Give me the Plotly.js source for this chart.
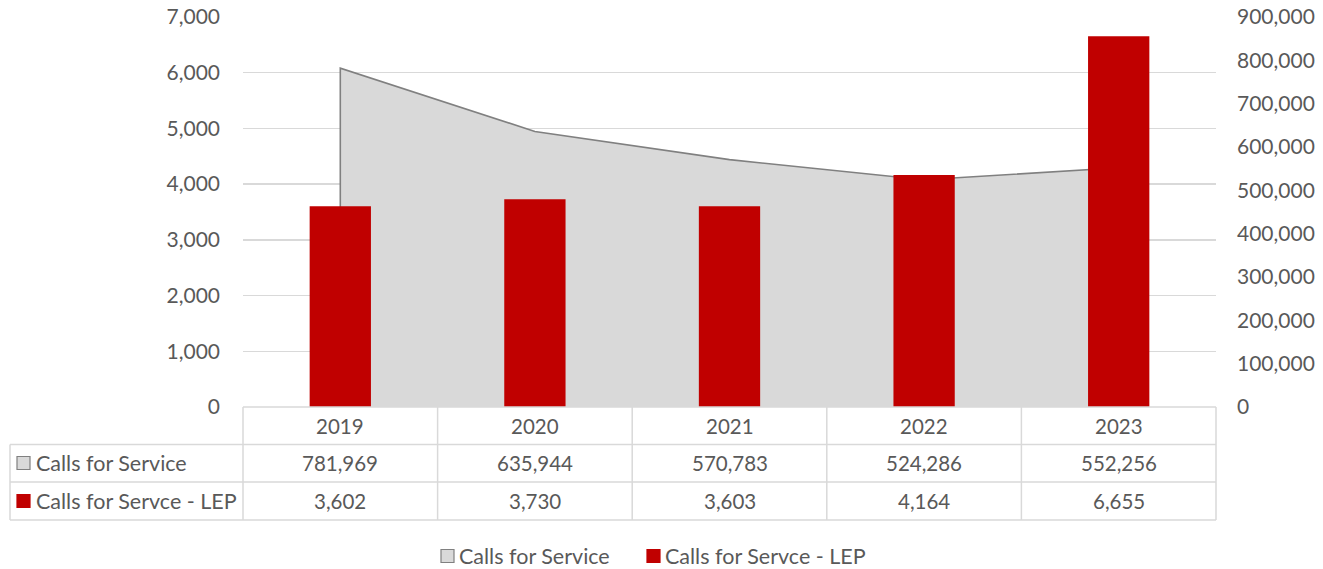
<!DOCTYPE html>
<html><head><meta charset="utf-8">
<script src="https://cdn.plot.ly/plotly-3.0.1.min.js"></script>
<style>html,body{margin:0;padding:0;background:#fff}#chart{width:1323px;height:569px}</style>
</head><body><div id="chart"></div>
<script>
const years = ['2019','2020','2021','2022','2023'];
const callsForService = [781969, 635944, 570783, 524286, 552256];
const callsLEP = [3602, 3730, 3603, 4164, 6655];
const seriesNames = ['Calls for Service', 'Calls for Servce - LEP'];
const leftTicks = [0,1000,2000,3000,4000,5000,6000,7000];
const rightTicks = [0,100000,200000,300000,400000,500000,600000,700000,800000,900000];

const W = 1323, H = 569, L = 243, R = 1216, T = 17, B = 407;
const FONT = 'Lato, "Open Sans", sans-serif';
const TXT = '#595959';
const GRID = '#d9d9d9';
const NUM = 20.5, LAB = 21.5;
const px = x => (x - L) / (R - L);
const py = y => (B - y) / (B - T);
const fmt = v => v.toLocaleString('en-US');

const areaFill = {
  x: years, y: callsForService, type: 'scatter', mode: 'none',
  fill: 'tozeroy', fillcolor: '#d9d9d9', yaxis: 'y', xaxis: 'x',
  hoverinfo: 'skip', showlegend: false
};
const areaLine = {
  x: [years[0]].concat(years), y: [0].concat(callsForService),
  type: 'scatter', mode: 'lines', line: {color: '#808080', width: 1.6},
  yaxis: 'y', xaxis: 'x', showlegend: false
};
const bars = {
  x: years, y: callsLEP, type: 'bar', marker: {color: '#c00000'},
  width: 0.315, yaxis: 'y2', xaxis: 'x', showlegend: false
};

const shapes = [];
const annotations = [];
const line = (x0,y0,x1,y1) => shapes.push({type:'line', xref:'paper', yref:'paper', x0, y0, x1, y1, line:{color:GRID, width:1.5}});

const rH = [407, 444.5, 482, 520];
line(0, py(rH[0]), 1, py(rH[0]));
line(px(10), py(rH[1]), 1, py(rH[1]));
line(px(10), py(rH[2]), 1, py(rH[2]));
line(px(10), py(rH[3]), 1, py(rH[3]));
for (let i = 0; i <= years.length; i++) {
  const xv = i / years.length;
  line(xv, py(rH[0]), xv, py(rH[3]));
}
line(px(10), py(rH[1]), px(10), py(rH[3]));

const rowMid = i => py((rH[i] + rH[i+1]) / 2);
const cell = (i, row, text) => annotations.push({xref:'paper', yref:'paper', x: (i + 0.5) / years.length, y: rowMid(row), text, showarrow:false, font:{family:FONT,size:NUM,color:TXT}, xanchor:'center', yanchor:'middle'});
years.forEach((yr, i) => {
  cell(i, 0, yr);
  cell(i, 1, fmt(callsForService[i]));
  cell(i, 2, fmt(callsLEP[i]));
});
const key = (x, yc, fill, border) => shapes.push({type:'rect', xref:'paper', yref:'paper', x0: px(x), x1: px(x+13), y0: py(yc+6.5), y1: py(yc-6.5), fillcolor: fill, line:{color:border, width:1.2}});
key(17, 463, '#d9d9d9', '#808080');
key(17, 501, '#c00000', '#c00000');
annotations.push({xref:'paper', yref:'paper', x: px(34), y: rowMid(1), text: seriesNames[0], showarrow:false, xanchor:'left', yanchor:'middle', font:{family:FONT,size:LAB,color:TXT}});
annotations.push({xref:'paper', yref:'paper', x: px(34), y: rowMid(2), text: seriesNames[1], showarrow:false, xanchor:'left', yanchor:'middle', font:{family:FONT,size:LAB,color:TXT}});
key(441, 556, '#d9d9d9', '#808080');
key(647, 556, '#c00000', '#c00000');
annotations.push({xref:'paper', yref:'paper', x: px(457), y: py(556), text: seriesNames[0], showarrow:false, xanchor:'left', yanchor:'middle', font:{family:FONT,size:LAB,color:TXT}});
annotations.push({xref:'paper', yref:'paper', x: px(663), y: py(556), text: seriesNames[1], showarrow:false, xanchor:'left', yanchor:'middle', font:{family:FONT,size:LAB,color:TXT}});

const layout = {
  width: W, height: H,
  margin: {l: L, r: W - R, t: T, b: H - B, pad: 0},
  paper_bgcolor: '#fff', plot_bgcolor: 'rgba(0,0,0,0)',
  font: {family: FONT, size: NUM, color: TXT},
  showlegend: false,
  xaxis: {type:'category', categoryorder:'array', categoryarray: years, range:[-0.5, years.length - 0.5], showticklabels:false, showgrid:false, zeroline:false, showline:false, ticks:'', fixedrange:true},
  yaxis: {side:'right', range:[0,900000], tickvals: rightTicks, ticktext: rightTicks.map(fmt), tickfont:{size:21}, showgrid:false, zeroline:false, showline:false, ticks:'', ticklabelstandoff: 20, fixedrange:true},
  yaxis2: {overlaying:'y', side:'left', range:[0,7000], tickvals: leftTicks, ticktext: leftTicks.map(fmt), tickfont:{size:21}, showgrid:true, gridcolor: GRID, gridwidth: 1.5, zeroline:false, showline:false, ticks:'', ticklabelstandoff: 22, fixedrange:true},
  shapes, annotations
};
Plotly.newPlot('chart', [areaFill, areaLine, bars], layout, {displayModeBar:false, staticPlot:true});
</script></body></html>
